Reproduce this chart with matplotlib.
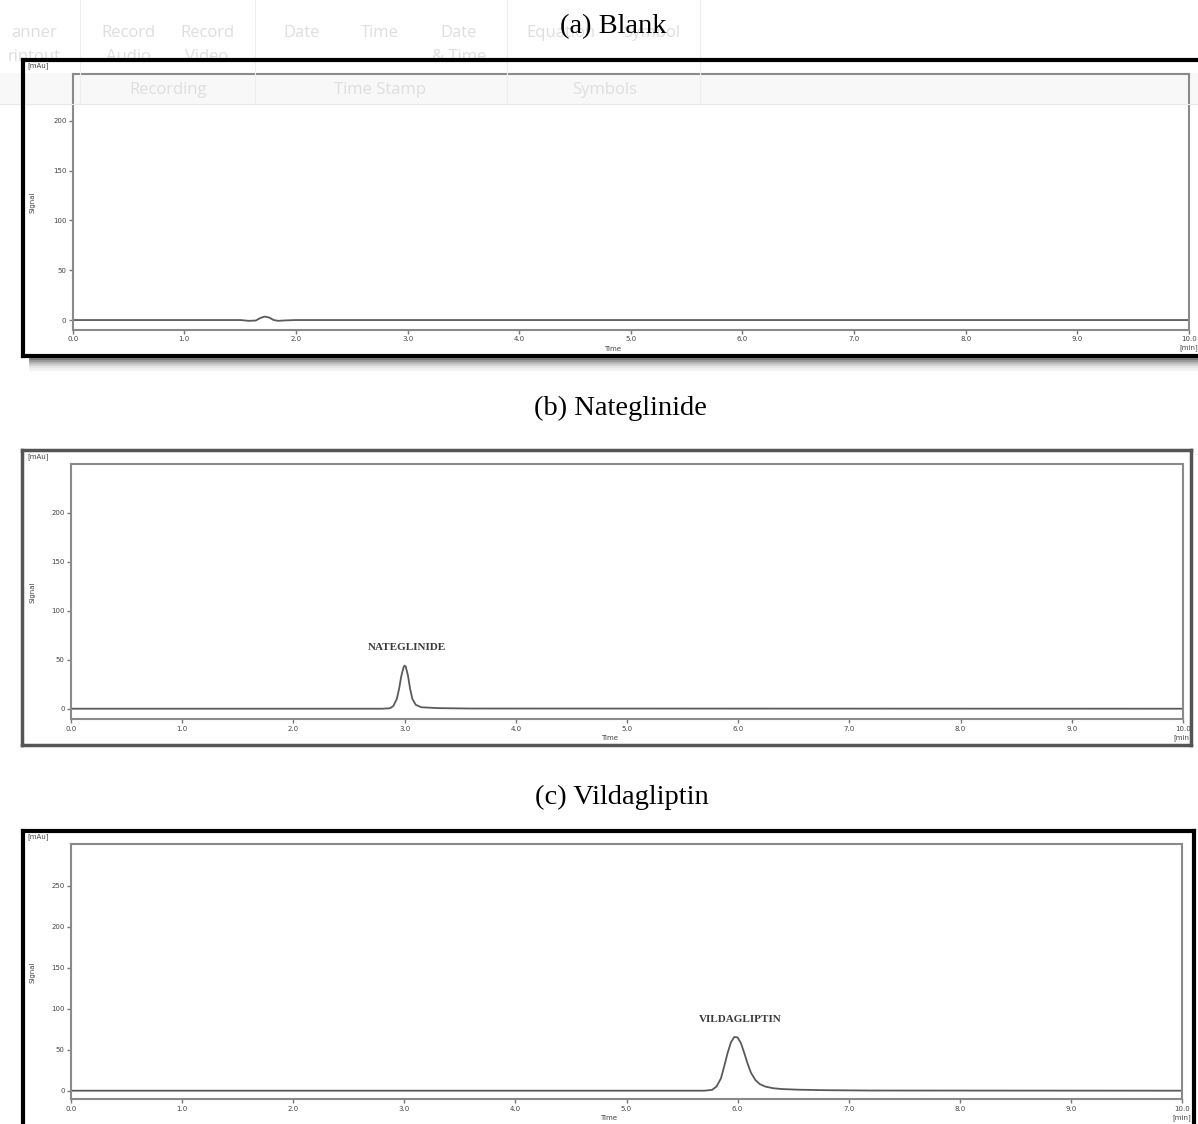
import numpy as np
import matplotlib.pyplot as plt
from matplotlib.lines import Line2D
from matplotlib.patches import Rectangle

W, H = 1198, 1124

# chromatogram traces (time in min, signal in mAu)
blank_time = [0.0, 1.50, 1.58, 1.64, 1.68, 1.72, 1.76, 1.80, 1.84, 1.90, 2.0, 10.0]
blank_signal = [0.0, 0.0, -0.8, -0.5, 2.0, 3.5, 2.5, 0.0, -0.8, -0.4, 0.0, 0.0]

nat_time = [0.0, 2.80, 2.87, 2.90, 2.93, 2.95, 2.97, 2.99, 3.00, 3.01, 3.03,
            3.05, 3.07, 3.10, 3.15, 3.30, 3.60, 10.0]
nat_signal = [0.0, 0.0, 0.5, 3.0, 10.0, 20.0, 33.0, 42.0, 44.0, 43.0, 34.0,
              20.0, 10.0, 4.0, 1.5, 0.6, 0.2, 0.0]

vil_time = [0.0, 5.70, 5.77, 5.81, 5.85, 5.88, 5.91, 5.94, 5.97, 6.00, 6.03,
            6.06, 6.09, 6.12, 6.16, 6.20, 6.25, 6.32, 6.40, 6.55, 6.80, 7.20, 10.0]
vil_signal = [0.0, 0.0, 1.0, 5.0, 15.0, 30.0, 46.0, 59.0, 65.5, 65.0, 58.0,
              46.0, 33.0, 22.0, 13.0, 8.0, 5.0, 3.0, 2.0, 1.2, 0.6, 0.2, 0.0]

x_ticks = [0, 1, 2, 3, 4, 5, 6, 7, 8, 9, 10]
y_ticks_ab = [0, 50, 100, 150, 200]
y_ticks_c = [0, 50, 100, 150, 200, 250]

titles = ["(a) Blank", "(b) Nateglinide", "(c) Vildagliptin"]
peak_names = ["", "NATEGLINIDE", "VILDAGLIPTIN"]
peak_name_pos = [None, (3.02, 62), (6.02, 87)]

# faint word-processor ribbon that shows through the top screenshot
ribbon_words = ["anner", "rintout", "Record", "Audio", "Record", "Video", "Date",
                "Time", "Date", "& Time", "Equation", "Symbol",
                "Recording", "Time Stamp", "Symbols"]
ribbon_xy = [(34, 33), (34, 57), (128, 33), (128, 57), (207, 33), (207, 57), (302, 33),
             (380, 33), (459, 33), (459, 57), (561, 33), (652, 33),
             (168, 90), (380, 90), (605, 90)]
ribbon_seps = [80, 255, 507, 700]


def fx(x):
    return x / W


def fy(y):
    return 1 - y / H


def add_axes_px(fig, left, top, right, bottom):
    return fig.add_axes([fx(left), fy(bottom), (right - left) / W, (bottom - top) / H])


def hline(fig, x0, x1, y, lw, color, z=5):
    fig.add_artist(Line2D([fx(x0), fx(x1)], [fy(y), fy(y)], lw=lw, color=color, zorder=z))


def vline(fig, x, y0, y1, lw, color, z=5):
    fig.add_artist(Line2D([fx(x), fx(x)], [fy(y0), fy(y1)], lw=lw, color=color, zorder=z))


def draw_panel(fig, box, ylim, yticks, t, s, name, name_pos):
    left, top, right, bottom = box
    ax = add_axes_px(fig, left, top, right, bottom)
    ax.patch.set_alpha(0)
    ax.plot(t, s, color="#5a5a5a", lw=1.3)
    ax.set_xlim(0, 10)
    ax.set_ylim(*ylim)
    ax.set_xticks(x_ticks)
    ax.set_xticklabels(["%.1f" % v for v in x_ticks])
    ax.set_yticks(yticks)
    ax.set_yticklabels([str(v) for v in yticks])
    ax.tick_params(axis="both", length=3, width=1, color="#777777", labelsize=5,
                   labelcolor="#444444", pad=1.5)
    for sp in ax.spines.values():
        sp.set_color("#8a8a8a")
        sp.set_linewidth(1.5)
    ax.text(0.484, -0.075, "Time", transform=ax.transAxes, fontsize=5,
            color="#444444", ha="center", va="center")
    ax.text(1.0, -0.07, "[min]", transform=ax.transAxes, fontsize=5,
            color="#444444", ha="center", va="center")
    sx = (33 - left) / (right - left)
    ax.text(sx, 0.5, "Signal", transform=ax.transAxes, fontsize=5, rotation=90,
            color="#444444", ha="center", va="center")
    fig.text(fx(38), fy(top - 8), "[mAu]", fontsize=5, color="#444444",
             ha="center", va="center", zorder=6)
    if name:
        ax.text(name_pos[0], name_pos[1], name, fontsize=8, color="#3a3a3a",
                family="Liberation Serif", weight="bold", ha="center", va="center")
    return ax


fig = plt.figure(figsize=(W / 100, H / 100), dpi=100)
fig.patch.set_facecolor("white")

# ribbon ghost
fig.add_artist(Rectangle((0, fy(105)), 1, (105 - 73) / H, transform=fig.transFigure,
                         facecolor="#f8f8f8", edgecolor="none", zorder=0))
for word, (x, y) in zip(ribbon_words, ribbon_xy):
    fig.text(fx(x), fy(y), word, fontsize=12, color="#dedede", family="Open Sans",
             ha="center", va="center", zorder=1)
for x in ribbon_seps:
    vline(fig, x, 0, 103, 0.8, "#ededed", z=1)
hline(fig, 0, W, 104, 0.8, "#e8e8e8", z=1)

draw_panel(fig, (72.7, 74, 1189, 330), (-10, 247), y_ticks_ab,
           blank_time, blank_signal, peak_names[0], peak_name_pos[0])
draw_panel(fig, (71, 464.3, 1183, 719.3), (-10.8, 249.4), y_ticks_ab,
           nat_time, nat_signal, peak_names[1], peak_name_pos[1])
draw_panel(fig, (71, 844.3, 1182, 1099.3), (-10.5, 300.5), y_ticks_c,
           vil_time, vil_signal, peak_names[2], peak_name_pos[2])

# screenshot frames
# (a) black frame with drop shadow, cut at the right edge
for i, g in enumerate(["#7a7a7a", "#9a9a9a", "#b8b8b8", "#d2d2d2", "#e6e6e6", "#f2f2f2"]):
    hline(fig, 30, W, 359 + 2 * i, 2.0, g, z=4)
hline(fig, 23, W + 5, 60, 3.0, "black")
hline(fig, 23, W + 5, 356, 3.0, "black")
vline(fig, 23, 60, 356, 3.0, "black")

# (b) grey frame
hline(fig, 22, 1191, 450.5, 2.5, "#555555")
hline(fig, 22, 1191, 745, 2.5, "#555555")
vline(fig, 22, 450.5, 745, 2.5, "#555555")
vline(fig, 1191, 450.5, 745, 2.5, "#555555")

# (c) black frame, cut at the bottom
hline(fig, 22.5, 1194, 830.5, 3.0, "black")
vline(fig, 22.5, 830.5, H + 5, 3.0, "black")
vline(fig, 1194, 830.5, H + 5, 3.0, "black")

for title, (x, y) in zip(titles, [(613, 27), (620, 408), (622, 797)]):
    fig.text(fx(x), fy(y), title, fontsize=20.5, family="Liberation Serif",
             color="black", ha="center", va="center", zorder=6)

fig.savefig("out.png", dpi=100)
